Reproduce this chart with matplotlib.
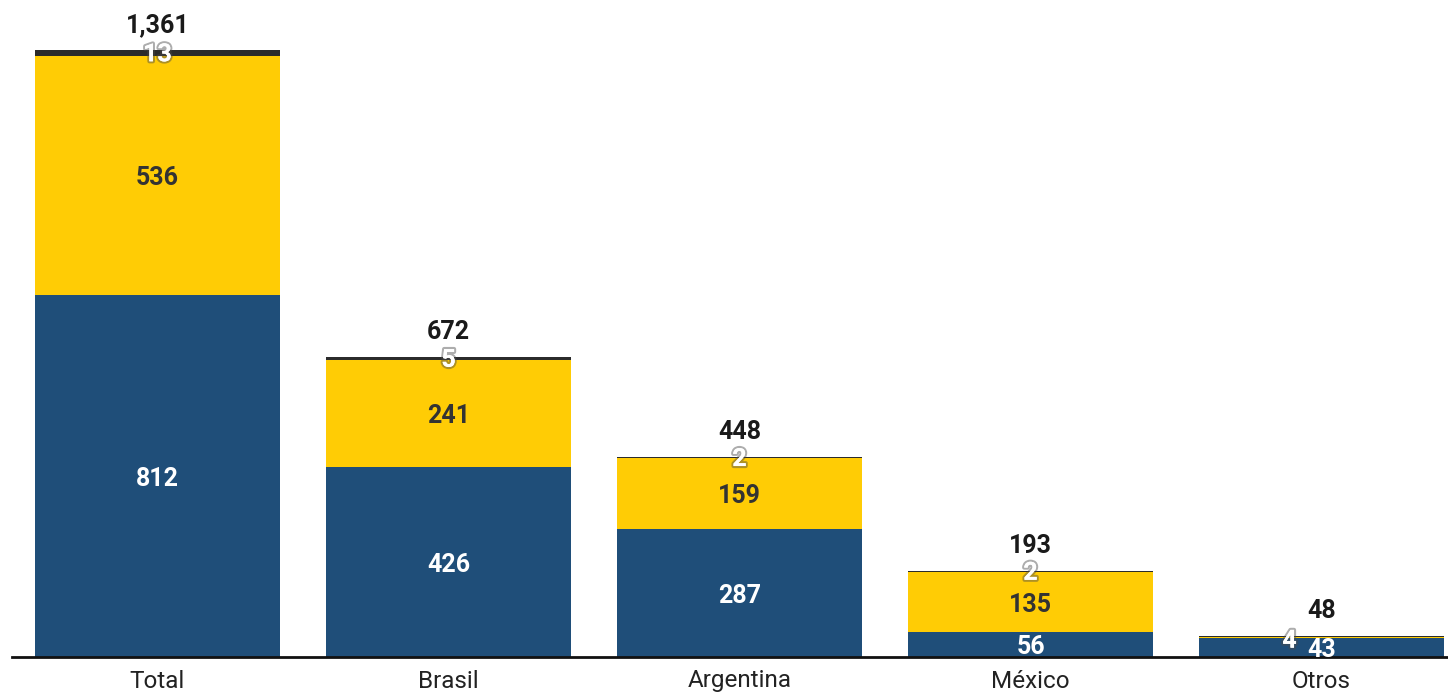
import matplotlib
matplotlib.use("Agg")
import matplotlib.pyplot as plt
import matplotlib.patheffects as pe
import numpy as np

plt.rcParams['font.family'] = ['Roboto', 'DejaVu Sans']

categories = ["Total", "Brasil", "Argentina", "México", "Otros"]
serie_azul = [812, 426, 287, 56, 43]
serie_amarilla = [536, 241, 159, 135, 1]
serie_oscura = [13, 5, 2, 2, 4]
totales = [1361, 672, 448, 193, 48]

color_azul = "#1F4E79"
color_amarillo = "#FFCC05"
color_oscuro = "#2B2B2B"

fig = plt.figure(figsize=(14.48, 6.94), dpi=100)
ax = fig.add_axes([12 / 1448, 37 / 694, 1436 / 1448, 657 / 694])

x = np.arange(len(categories))
width = 0.842
azul = np.array(serie_azul)
amarilla = np.array(serie_amarilla)
oscura = np.array(serie_oscura)

ax.bar(x, azul, width, color=color_azul, linewidth=0)
ax.bar(x, amarilla, width, bottom=azul, color=color_amarillo, linewidth=0)
ax.bar(x, oscura, width, bottom=azul + amarilla, color=color_oscuro, linewidth=0)

fs = 18
shadow = [pe.withStroke(linewidth=3, foreground="#4a4a4a", alpha=0.45),
          pe.Normal()]


def label(xv, yv, txt, color, dx_pt=0, dy_pt=-2, effects=None):
    ax.annotate(txt, (xv, yv), xytext=(dx_pt, dy_pt), textcoords="offset points",
                ha="center", va="center", color=color, fontsize=fs,
                fontweight="bold", path_effects=effects)


for i in range(len(categories)):
    # blue segment
    label(x[i], azul[i] / 2, f"{azul[i]:,}", "white")
    # yellow segment
    if amarilla[i] >= 10:
        label(x[i], azul[i] + amarilla[i] / 2, f"{amarilla[i]:,}", "#333333")
    # dark segment (last label nudged left so it clears the blue one)
    last = i == len(categories) - 1
    label(x[i], azul[i] + amarilla[i] + oscura[i] / 2, f"{oscura[i]:,}", "white",
          dx_pt=-23 if last else 0, dy_pt=-3 if last else -1, effects=shadow)
    # total above
    ax.annotate(f"{totales[i]:,}", (x[i], totales[i]), xytext=(0, 18),
                textcoords="offset points", ha="center", va="center",
                color="#1a1a1a", fontsize=fs, fontweight="bold")

ax.set_xlim(-0.5, -0.5 + 1436 / 291)
ax.set_ylim(0, 657 / 0.446)
ax.set_xticks(x)
ax.set_xticklabels(categories, fontsize=17.5, color="#222222")
ax.tick_params(axis="x", length=0, pad=9)
ax.set_yticks([])
for s in ["top", "right", "left"]:
    ax.spines[s].set_visible(False)
ax.spines["bottom"].set_linewidth(2)
ax.spines["bottom"].set_color("#111111")

fig.savefig("out.png", dpi=100, facecolor="white")
